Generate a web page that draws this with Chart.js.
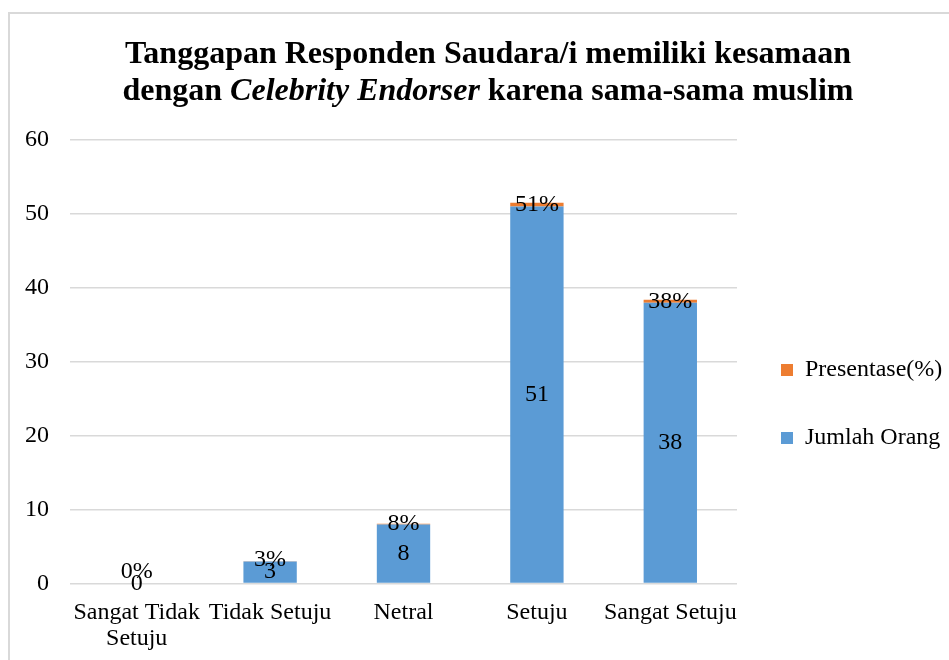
<!DOCTYPE html>
<html>
<head>
<meta charset="utf-8">
<script src="https://cdn.jsdelivr.net/npm/chart.js@4/dist/chart.umd.min.js"></script>
<style>
  html, body { margin: 0; padding: 0; background: #fff; }
  #wrap { position: relative; width: 949px; height: 660px; overflow: hidden; background: #fff; }
  #frame { position: absolute; left: 8px; top: 12px; width: 1000px; height: 700px; border: 2px solid #d9d9d9; box-sizing: border-box; }
  #title { position: absolute; left: 0; top: 34px; width: 976px; text-align: center;
           font-family: 'Liberation Serif', 'Times New Roman', serif; font-weight: bold; font-size: 32px;
           line-height: 36.5px; color: #000; }
  #c { position: absolute; left: 0; top: 0; }
</style>
</head>
<body>
<div id="wrap">
  <div id="frame"></div>
  <canvas id="c" width="949" height="680"></canvas>
  <div id="title">Tanggapan Responden Saudara/i memiliki kesamaan<br>dengan <i>Celebrity Endorser</i> karena sama-sama muslim</div>
</div>
<script>
const categories = [['Sangat Tidak', 'Setuju'], 'Tidak Setuju', 'Netral', 'Setuju', 'Sangat Setuju'];
const jumlahOrang = [0, 3, 8, 51, 38];
const presentase = [0, 0.03, 0.08, 0.51, 0.38];
const presentaseLabels = ['0%', '3%', '8%', '51%', '38%'];
const yTicks = [0, 10, 20, 30, 40, 50, 60];

const FONT = 'Liberation Serif';
Chart.defaults.font.family = FONT;
Chart.defaults.font.size = 24;
Chart.defaults.color = '#000';

const LEGEND_W = 212;

const legendWidthPlugin = {
  id: 'legendWidth',
  beforeLayout(chart) {
    const lg = chart.legend;
    if (lg && !lg._patched) {
      const f = lg.fit;
      lg.fit = function () { f.call(this); this.width = LEGEND_W; };
      lg._patched = true;
    }
  }
};

const labelPlugin = {
  id: 'barLabels',
  afterDatasetsDraw(chart) {
    const ctx = chart.ctx;
    ctx.save();
    ctx.font = '24px ' + FONT;
    ctx.fillStyle = '#000';
    ctx.textAlign = 'center';
    ctx.textBaseline = 'middle';
    const m0 = chart.getDatasetMeta(0);
    const m1 = chart.getDatasetMeta(1);
    m0.data.forEach((bar, i) => {
      const yb = (bar.y + bar.base) / 2;
      ctx.fillText(String(jumlahOrang[i]), bar.x, yb);
      const ob = m1.data[i];
      let yo = (ob.y + ob.base) / 2;
      if (yo > yb - 11) yo = yb - 12;
      ctx.fillText(presentaseLabels[i], ob.x, yo);
    });
    ctx.restore();
  }
};

new Chart(document.getElementById('c'), {
  type: 'bar',
  data: {
    labels: categories,
    datasets: [
      { label: 'Jumlah Orang', data: jumlahOrang, backgroundColor: '#5B9BD5', barPercentage: 0.4, categoryPercentage: 1.0 },
      { label: 'Presentase(%)', data: presentase, backgroundColor: '#ED7D31', barPercentage: 0.4, categoryPercentage: 1.0 }
    ]
  },
  options: {
    responsive: false,
    animation: false,
    layout: { padding: { top: 140, left: 0, right: 0, bottom: 12 } },
    plugins: {
      title: { display: false },
      tooltip: { enabled: false },
      legend: {
        position: 'right',
        reverse: true,
        labels: { boxWidth: 12, boxHeight: 12, padding: 44, color: '#000', font: { size: 24, family: FONT } }
      }
    },
    scales: {
      x: {
        stacked: true,
        grid: { display: false, drawTicks: false },
        border: { display: false },
        ticks: { padding: 17, maxRotation: 0, autoSkip: false, color: '#000', font: { size: 24, family: FONT, lineHeight: 1.05 } }
      },
      y: {
        stacked: true,
        min: 0, max: 60,
        afterFit(scale) { scale.width = 70; },
        afterBuildTicks(scale) { scale.ticks = yTicks.map(v => ({ value: v })); },
        grid: { color: '#d9d9d9', lineWidth: 1.5, drawTicks: false },
        border: { display: false },
        ticks: { padding: 21, color: '#000', font: { size: 24, family: FONT } }
      }
    }
  },
  plugins: [legendWidthPlugin, labelPlugin]
});
</script>
</body>
</html>
